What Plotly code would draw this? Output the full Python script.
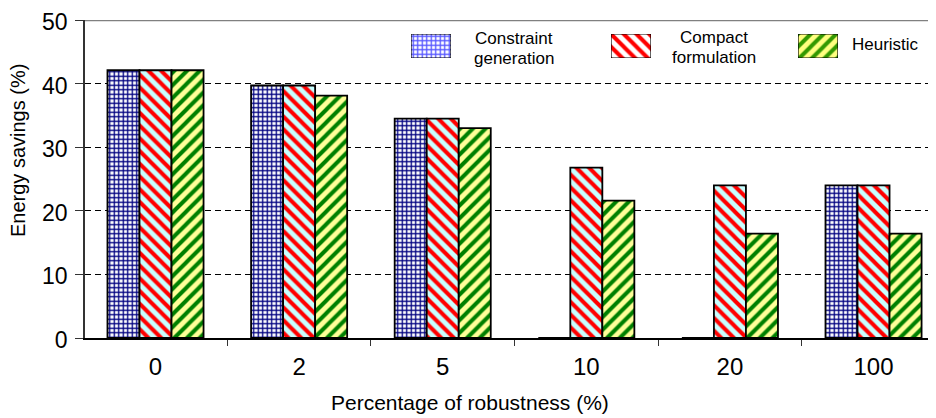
import plotly.graph_objects as go

# ---- data ----
categories = ["0", "2", "5", "10", "20", "100"]
constraint_generation = [42.1, 39.7, 34.5, 0, 0, 24.0]
compact_formulation = [42.1, 39.7, 34.5, 26.8, 24.0, 24.0]
heuristic = [42.1, 38.1, 33.0, 21.6, 16.4, 16.4]
series_names = ["Constraint generation", "Compact formulation", "Heuristic"]
legend_lines = [["Constraint", "generation"], ["Compact", "formulation"], ["Heuristic"]]
y_ticks = [0, 10, 20, 30, 40, 50]
x_title = "Percentage of robustness (%)"
y_title = "Energy savings (%)"

FONT = "Liberation Sans, Arial, sans-serif"
W, H = 936, 418
OFF = 8  # page body margin offset
# plot area in screen pixels
SL, ST, SB, SR = 85, 20, 338, 936
ML, MT = SL - OFF, ST - OFF
MB = H - (SB - OFF)
MR = W - (SR - OFF)
PW, PH = SR - SL, SB - ST


def px_x(p):
    return (p - SL) / PW


def px_y(p):
    return (SB - p) / PH


styles = [
    dict(shape="+", fg="#000080", bg="#ffffff", size=4.5, sol=0.5,
         lfg="#5555ff", lbg="#ffffff"),
    dict(shape="\\", fg="#ff0000", bg="#c8ffff", size=9, sol=0.45,
         lfg="#ff0000", lbg="#ffffff"),
    dict(shape="/", fg="#008000", bg="#ffff99", size=9, sol=0.45,
         lfg="#339900", lbg="#ffff80"),
]
values = [constraint_generation, compact_formulation, heuristic]

fig = go.Figure()
for name, vals, st in zip(series_names, values, styles):
    fig.add_trace(go.Bar(
        x=categories, y=vals, name=name, showlegend=False,
        marker=dict(
            color=st["bg"],
            line=dict(color="black", width=1.8),
            pattern=dict(shape=st["shape"], fgcolor=st["fg"], bgcolor=st["bg"],
                         fgopacity=1, size=st["size"], solidity=st["sol"],
                         fillmode="replace"),
        ),
    ))

# custom legend swatches (bars on small hidden axes)
swatch_x = [(411, 451), (611, 651), (798, 838)]
swatch_y = (34, 58)
annotations = []
for i, (st, (x0, x1)) in enumerate(zip(styles, swatch_x)):
    k = i + 2
    fig.add_trace(go.Bar(
        x=[0], y=[1], width=[1], showlegend=False, hoverinfo="skip",
        xaxis=f"x{k}", yaxis=f"y{k}",
        marker=dict(
            color=st["lbg"],
            line=dict(color="black", width=1.2),
            pattern=dict(shape=st["shape"], fgcolor=st["lfg"], bgcolor=st["lbg"],
                         fgopacity=1, size=st["size"], solidity=st["sol"],
                         fillmode="replace"),
        ),
    ))
    fig.update_layout(**{
        f"xaxis{k}": dict(domain=[px_x(x0), px_x(x1)], range=[-0.5, 0.5],
                          visible=False, anchor=f"y{k}", fixedrange=True,
                          automargin=False),
        f"yaxis{k}": dict(domain=[px_y(swatch_y[1]), px_y(swatch_y[0])], range=[0, 1],
                          visible=False, anchor=f"x{k}", fixedrange=True,
                          automargin=False),
    })

text_pos = [
    (514, [39, 59]),
    (714, [38, 58]),
    (885, [44.5]),
]
for lines, (cx, cys) in zip(legend_lines, text_pos):
    for ln, cy in zip(lines, cys):
        annotations.append(dict(
            text=ln, x=px_x(cx), y=px_y(cy), xref="paper", yref="paper",
            xanchor="center", yanchor="middle", showarrow=False,
            font=dict(family=FONT, size=17, color="black"),
        ))

annotations.append(dict(
    text=x_title, x=px_x(470), y=px_y(402), xref="paper", yref="paper",
    xanchor="center", yanchor="middle", showarrow=False,
    font=dict(family=FONT, size=21, color="black"),
))
annotations.append(dict(
    text=y_title, x=px_x(18), y=px_y(151), xref="paper", yref="paper",
    xanchor="center", yanchor="middle", showarrow=False, textangle=-90,
    font=dict(family=FONT, size=20, color="black"),
))

fig.update_layout(
    width=W, height=H, autosize=False,
    margin=dict(l=ML, r=MR, t=MT, b=MB, pad=0, autoexpand=False),
    paper_bgcolor="white", plot_bgcolor="white",
    barmode="group", bargap=0.331, bargroupgap=0,
    font=dict(family=FONT, color="black"),
    annotations=annotations,
    xaxis=dict(
        type="category", range=[-0.491, 5.435], showgrid=False,
        showline=True, linecolor="black", linewidth=2,
        ticks="outside", tickson="boundaries", ticklen=6, tickcolor="#333333",
        tickwidth=1, tickfont=dict(family=FONT, size=24, color="black"),
        ticklabelstandoff=6, ticklabeloverflow="allow", automargin=False,
        domain=[0, 1], fixedrange=True,
    ),
    yaxis=dict(
        range=[0, 50], tickvals=y_ticks, showgrid=True, gridcolor="black",
        griddash="6px,4px", gridwidth=1, zeroline=False,
        showline=True, linecolor="#333333", linewidth=1.5,
        ticks="outside", ticklen=8, tickcolor="#333333", tickwidth=1,
        tickfont=dict(family=FONT, size=23, color="black"),
        ticklabelstandoff=3, ticklabelshift=2, ticklabeloverflow="allow",
        automargin=False, domain=[0, 1], fixedrange=True,
    ),
    shapes=[dict(type="line", xref="paper", yref="y", x0=0, x1=1, y0=50, y1=50,
                 line=dict(color="#808080", width=2.5), layer="above")],
)

fig.write_html("out.html")
